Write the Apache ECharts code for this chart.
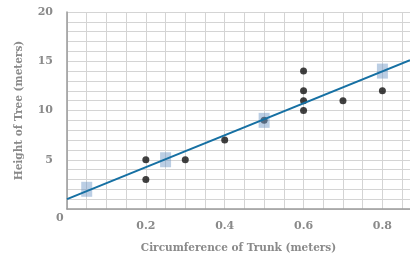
<!DOCTYPE html>
<html>
<head>
<meta charset="utf-8">
<script src="https://cdn.jsdelivr.net/npm/echarts@6/dist/echarts.min.js"></script>
<style>
  html, body { margin: 0; padding: 0; background: #fff; }
  #chart { width: 410px; height: 255px; }
</style>
</head>
<body>
<div id="chart"></div>
<script>
// observed trees: circumference (m), height (m)
const treeCirc = [0.2, 0.2, 0.3, 0.4, 0.5, 0.6, 0.6, 0.6, 0.6, 0.7, 0.8]
const treeHeight = [5, 3, 5, 7, 9, 14, 12, 11, 10, 11, 12]
// highlighted points on the fit line
const markCirc = [0.05, 0.25, 0.5, 0.8]
const markHeight = [2, 5, 9, 14]
// trend line end points
const fitCirc = [0, 0.87]
const fitHeight = [1, 15.1]

const labelColor = '#8a8a8a'
const font = 'DejaVu Serif'

function pairs(xs, ys) {
  return xs.map((x, i) => [x, ys[i]])
}

const chart = echarts.init(document.getElementById('chart'))
chart.setOption({
  animation: false,
  grid: { left: 67, top: 12, right: 0, bottom: 46, outerBoundsMode: 'none', containLabel: false },
  xAxis: {
    type: 'value',
    min: 0,
    max: 0.87,
    interval: 0.05,
    name: 'Circumference of Trunk (meters)',
    nameLocation: 'middle',
    nameGap: 34,
    nameTextStyle: { color: labelColor, fontFamily: font, fontWeight: 'bold', fontSize: 10.5 },
    axisLine: { lineStyle: { color: '#9a9a9a', width: 1.5 } },
    axisTick: { show: false },
    axisLabel: {
      color: labelColor,
      fontFamily: font,
      fontWeight: 'bold',
      fontSize: 11,
      margin: 12,
      formatter: v => {
        const k = v / 0.2
        return (v > 0 && Math.abs(k - Math.round(k)) < 1e-6) ? v.toFixed(1) : ''
      }
    },
    splitLine: { show: true, lineStyle: { color: '#d4d4d4', width: 1 } }
  },
  yAxis: {
    type: 'value',
    min: 0,
    max: 20,
    interval: 1,
    name: 'Height of Tree (meters)',
    nameLocation: 'middle',
    nameGap: 42,
    nameTextStyle: { color: labelColor, fontFamily: font, fontWeight: 'bold', fontSize: 10.5 },
    axisLine: { show: true, lineStyle: { color: '#9a9a9a', width: 1.5 } },
    axisTick: { show: false },
    axisLabel: {
      color: labelColor,
      fontFamily: font,
      fontWeight: 'bold',
      fontSize: 11,
      margin: 14,
      formatter: v => (v > 0 && v % 5 === 0) ? String(v) : ''
    },
    splitLine: { show: true, lineStyle: { color: '#d4d4d4', width: 1 } }
  },
  graphic: [{
    type: 'text',
    left: 56,
    top: 213,
    style: { text: '0', fill: labelColor, font: 'bold 11px "DejaVu Serif"' }
  }],
  series: [
    {
      type: 'scatter',
      data: pairs(treeCirc, treeHeight),
      symbol: 'circle',
      symbolSize: 7,
      itemStyle: { color: '#111' },
      z: 2
    },
    {
      type: 'scatter',
      data: pairs(markCirc, markHeight),
      symbol: 'rect',
      symbolSize: [11, 15],
      itemStyle: { color: 'rgba(112,152,198,0.6)' },
      z: 3
    },
    {
      type: 'line',
      data: pairs(fitCirc, fitHeight),
      showSymbol: false,
      lineStyle: { color: '#1670a3', width: 2 },
      z: 4
    }
  ]
})
</script>
</body>
</html>
